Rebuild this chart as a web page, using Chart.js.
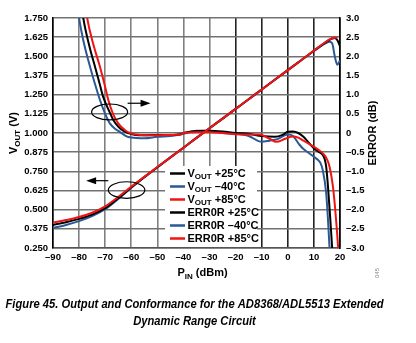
<!DOCTYPE html>
<html>
<head>
<meta charset="utf-8">
<script src="https://cdn.jsdelivr.net/npm/chart.js@4.4.1/dist/chart.umd.min.js"></script>
<style>
  html, body { margin: 0; padding: 0; background: #fff; }
  canvas { display: block; }
</style>
</head>
<body>
<canvas id="grafico" width="416" height="343"></canvas>
<script>
// Ejes: marcas de los tres ejes
const pinTicks = [-90, -80, -70, -60, -50, -40, -30, -20, -10, 0, 10, 20];
const voutTicks = [0.25, 0.375, 0.5, 0.625, 0.75, 0.875, 1.0, 1.125, 1.25, 1.375, 1.5, 1.625, 1.75];
const errTicks = [-3, -2.5, -2, -1.5, -1, -0.5, 0, 0.5, 1, 1.5, 2, 2.5, 3];

// VOUT (V) vs PIN (dBm)
const pinVout = [-90, -85, -80, -75, -70, -65, -60, -55, -50, -45, -40, -35, -30, -25, -20, -15, -10, -5, 0, 5, 10, 15, 16, 17, 18, 19, 20];
const voutP25 = [0.400, 0.418, 0.440, 0.468, 0.510, 0.575, 0.645, 0.712, 0.777, 0.841, 0.904, 0.968, 1.031, 1.094, 1.157, 1.220, 1.284, 1.347, 1.410, 1.473, 1.536, 1.598, 1.608, 1.616, 1.620, 1.605, 1.565];
const voutM40 = [0.380, 0.400, 0.425, 0.458, 0.503, 0.570, 0.643, 0.711, 0.776, 0.840, 0.904, 0.968, 1.031, 1.094, 1.157, 1.220, 1.284, 1.347, 1.410, 1.473, 1.535, 1.590, 1.595, 1.585, 1.500, 1.445, 1.475];
const voutP85 = [0.415, 0.432, 0.452, 0.480, 0.522, 0.583, 0.650, 0.714, 0.778, 0.841, 0.904, 0.968, 1.031, 1.094, 1.157, 1.220, 1.284, 1.347, 1.410, 1.473, 1.537, 1.600, 1.610, 1.618, 1.622, 1.620, null];

// Error (dB) vs PIN (dBm), cada temperatura con sus propios puntos
const pinErrP25 = [-80, -78.4, -76, -73.9, -72, -70.8, -68, -66.9, -65, -63.1, -60, -57, -55, -50, -45, -41, -40, -35, -30, -25, -20, -15, -10, -5, -2, 0, 2, 4, 6, 8, 10, 12, 13.4, 14.2, 14.7, 15.4, 16.3, 17, 17.5];
const errP25 = [3.8, 3.0, 2.25, 1.73, 1.25, 0.95, 0.5, 0.34, 0.17, 0.06, -0.03, -0.06, -0.06, -0.05, -0.05, -0.03, 0.0, 0.05, 0.06, 0.04, 0.0, -0.02, -0.08, -0.1, -0.05, 0.03, 0.04, 0.0, -0.1, -0.25, -0.4, -0.5, -0.57, -0.7, -0.88, -1.4, -2.27, -3.0, -3.6];

const pinErrM40 = [-81.5, -80, -78, -75.8, -74, -72, -70, -68.2, -66, -64.4, -62, -60, -55, -50, -45, -40, -35, -30, -25, -20, -15, -10, -7, -4, 0, 2, 4.4, 6, 8.2, 10, 11.5, 12.5, 13.4, 14.7, 15.4, 16, 16.5];
const errM40 = [3.8, 3.0, 2.3, 1.73, 1.3, 0.86, 0.5, 0.25, 0.1, 0.03, -0.08, -0.12, -0.14, -0.1, -0.08, -0.02, 0.06, 0.06, 0.0, -0.02, -0.08, -0.23, -0.2, -0.16, -0.04, -0.08, -0.3, -0.42, -0.53, -0.62, -0.7, -0.78, -0.97, -1.57, -2.27, -3.0, -3.6];

const pinErrP85 = [-78.5, -76.9, -74.5, -72, -70, -68.8, -67, -65, -62.5, -60.5, -58, -55, -50, -45, -41, -40, -35, -30, -25, -20, -15, -10.8, -7, -4.4, -1, 1.9, 4, 6, 8, 10, 12, 13.4, 15, 16, 17.3, 18.3, 19.3, 19.8];
const errP85 = [3.8, 3.0, 2.3, 1.73, 1.2, 0.86, 0.5, 0.25, 0.08, 0.0, -0.04, -0.06, -0.06, -0.05, -0.04, 0.0, 0.02, 0.02, 0.0, -0.03, -0.04, -0.04, -0.15, -0.23, -0.15, -0.09, -0.12, -0.2, -0.28, -0.36, -0.45, -0.53, -0.68, -0.88, -1.4, -2.1, -3.0, -3.6];

const NEGRO = "#000000";
const AZUL = "#2a5a96";
const ROJO = "#f01414";
const FUENTE = "'Liberation Sans', Arial, sans-serif";

const pares = (xs, ys) => xs.map((x, i) => ({ x, y: ys[i] }));
const menos = (v) => String(v).replace("-", "\u2013");

const serie = (label, xs, ys, color, eje, orden) => ({
  label,
  data: pares(xs, ys),
  yAxisID: eje,
  borderColor: color,
  backgroundColor: color,
  borderWidth: 2,
  pointRadius: 0,
  cubicInterpolationMode: "monotone",
  spanGaps: false,
  order: orden,
});

// Elipses y flechas de la figura (en unidades de datos)
const notas = [
  { pin: -68.3, v: 1.137, dPin: 6.9, dV: 0.052, flechaV: 1.194, desde: -61.4, hasta: -52.6 },
  { pin: -61.8, v: 0.628, dPin: 7.0, dV: 0.054, flechaV: 0.689, desde: -68.8, hasta: -77.3 },
];

// Texto con subíndices marcados con {…}
const textoSub = (ctx, texto, x, y, tam, alinear) => {
  const partes = texto.split(/(\{[^}]*\})/).filter((p) => p);
  const fMain = `bold ${tam}px ${FUENTE}`;
  const fSub = `bold ${Math.round(tam * 0.75)}px ${FUENTE}`;
  let ancho = 0;
  partes.forEach((p) => {
    ctx.font = p.startsWith("{") ? fSub : fMain;
    ancho += ctx.measureText(p.replace(/[{}]/g, "")).width;
  });
  let cx = alinear === "center" ? x - ancho / 2 : x;
  ctx.textAlign = "left";
  ctx.textBaseline = "middle";
  partes.forEach((p) => {
    const sub = p.startsWith("{");
    const t = p.replace(/[{}]/g, "");
    ctx.font = sub ? fSub : fMain;
    ctx.fillText(t, cx, sub ? y + tam * 0.3 : y);
    cx += ctx.measureText(t).width;
  });
};

const extras = {
  id: "extras",
  afterDatasetsDraw(chart) {
    const { ctx } = chart;
    const sx = chart.scales.x;
    const sy = chart.scales.y;
    ctx.save();
    ctx.strokeStyle = NEGRO;
    ctx.fillStyle = NEGRO;
    ctx.lineWidth = 1.2;
    notas.forEach((n) => {
      const cx = sx.getPixelForValue(n.pin);
      const cy = sy.getPixelForValue(n.v);
      const rx = Math.abs(sx.getPixelForValue(n.pin + n.dPin) - cx);
      const ry = Math.abs(sy.getPixelForValue(n.v + n.dV) - cy);
      ctx.beginPath();
      ctx.ellipse(cx, cy, rx, ry, 0, 0, Math.PI * 2);
      ctx.stroke();
      const ay = sy.getPixelForValue(n.flechaV);
      const a0 = sx.getPixelForValue(n.desde);
      const a1 = sx.getPixelForValue(n.hasta);
      const dir = Math.sign(a1 - a0);
      ctx.beginPath();
      ctx.moveTo(a0, ay);
      ctx.lineTo(a1 - dir * 6, ay);
      ctx.stroke();
      ctx.beginPath();
      ctx.moveTo(a1, ay);
      ctx.lineTo(a1 - dir * 10, ay - 3.5);
      ctx.lineTo(a1 - dir * 10, ay + 3.5);
      ctx.closePath();
      ctx.fill();
    });

    // Leyenda dentro del área
    ctx.fillStyle = "#ffffff";
    ctx.fillRect(165, 166, 92, 81);
    chart.data.datasets.forEach((ds, i) => {
      const yy = 173.5 + i * 13;
      ctx.strokeStyle = ds.borderColor;
      ctx.lineWidth = 2.5;
      ctx.beginPath();
      ctx.moveTo(170, yy);
      ctx.lineTo(185, yy);
      ctx.stroke();
      ctx.fillStyle = NEGRO;
      textoSub(ctx, ds.label, 187.5, yy, 11, "left");
    });
    ctx.restore();
  },
  afterDraw(chart) {
    const { ctx, chartArea } = chart;
    ctx.save();
    ctx.fillStyle = NEGRO;
    // Títulos de ejes
    const cyArea = (chartArea.top + chartArea.bottom) / 2;
    ctx.save();
    ctx.translate(14, cyArea);
    ctx.rotate(-Math.PI / 2);
    textoSub(ctx, "V{OUT} (V)", 0, 0, 11, "center");
    ctx.restore();
    ctx.save();
    ctx.translate(373, cyArea);
    ctx.rotate(-Math.PI / 2);
    textoSub(ctx, "ERROR (dB)", 0, 0, 11, "center");
    ctx.restore();
    textoSub(ctx, "P{IN} (dBm)", (chartArea.left + chartArea.right) / 2 + 6, 273, 11, "center");

    // Código de figura
    ctx.save();
    ctx.translate(377, 273);
    ctx.rotate(-Math.PI / 2);
    ctx.fillStyle = "#888";
    ctx.font = `6px ${FUENTE}`;
    ctx.textAlign = "center";
    ctx.textBaseline = "middle";
    ctx.fillText("045", 0, 0);
    ctx.restore();

    // Pie de figura
    const l1 = "Figure 45. Output and Conformance for the AD8368/ADL5513 Extended";
    const l2 = "Dynamic Range Circuit";
    ctx.font = `italic bold 12px 'Liberation Sans Narrow', 'Arial Narrow', ${FUENTE}`;
    const esc = 378 / ctx.measureText(l1).width;
    ctx.textAlign = "center";
    ctx.textBaseline = "middle";
    ctx.save();
    ctx.translate(194.5, 0);
    ctx.scale(esc, 1);
    ctx.fillText(l1, 0, 305);
    ctx.fillText(l2, 0, 321.5);
    ctx.restore();
    ctx.restore();
  },
};

const fijarTicks = (arr) => (scale) => {
  scale.ticks = arr.map((value) => ({ value }));
};

const fuenteTick = { family: FUENTE, size: 9.5, weight: "bold" };

new Chart(document.getElementById("grafico"), {
  type: "line",
  data: {
    datasets: [
      serie("V{OUT} +25°C", pinVout, voutP25, NEGRO, "y", 1),
      serie("V{OUT} \u201340°C", pinVout, voutM40, AZUL, "y", 2),
      serie("V{OUT} +85°C", pinVout, voutP85, ROJO, "y", 0),
      serie("ERR0R +25°C", pinErrP25, errP25, NEGRO, "y2", 1),
      serie("ERR0R \u201340°C", pinErrM40, errM40, AZUL, "y2", 2),
      serie("ERR0R +85°C", pinErrP85, errP85, ROJO, "y2", 0),
    ],
  },
  options: {
    responsive: false,
    animation: false,
    devicePixelRatio: 1,
    layout: { padding: { top: 18, left: 0, right: 0, bottom: 0 } },
    plugins: { legend: { display: false }, tooltip: { enabled: false } },
    scales: {
      x: {
        type: "linear",
        min: -90,
        max: 20,
        afterBuildTicks: fijarTicks(pinTicks),
        afterFit: (s) => { s.height = 95; },
        grid: {
          color: (c) => (c.tick && c.tick.value <= -30 ? "#808080" : "#222222"),
          lineWidth: 1.6,
          drawTicks: false,
        },
        border: { color: "#555", width: 1.6 },
        ticks: { font: fuenteTick, color: NEGRO, padding: 4, maxRotation: 0, callback: (v) => menos(v) },
      },
      y: {
        position: "left",
        min: 0.25,
        max: 1.75,
        afterBuildTicks: fijarTicks(voutTicks),
        afterFit: (s) => { s.width = 53; },
        grid: { color: "#727272", lineWidth: 1.6, drawTicks: false },
        border: { color: NEGRO, width: 1.6 },
        ticks: { font: fuenteTick, color: NEGRO, padding: 5, callback: (v) => Number(v).toFixed(3) },
      },
      y2: {
        position: "right",
        min: -3,
        max: 3,
        afterBuildTicks: fijarTicks(errTicks),
        afterFit: (s) => { s.width = 76; },
        grid: { drawOnChartArea: false, drawTicks: false },
        border: { color: NEGRO, width: 1.6 },
        ticks: {
          font: fuenteTick,
          color: NEGRO,
          padding: 6,
          callback: (v) => (v === 0 ? "0" : menos(Number(v).toFixed(1))),
        },
      },
    },
  },
  plugins: [extras],
});
</script>
</body>
</html>
